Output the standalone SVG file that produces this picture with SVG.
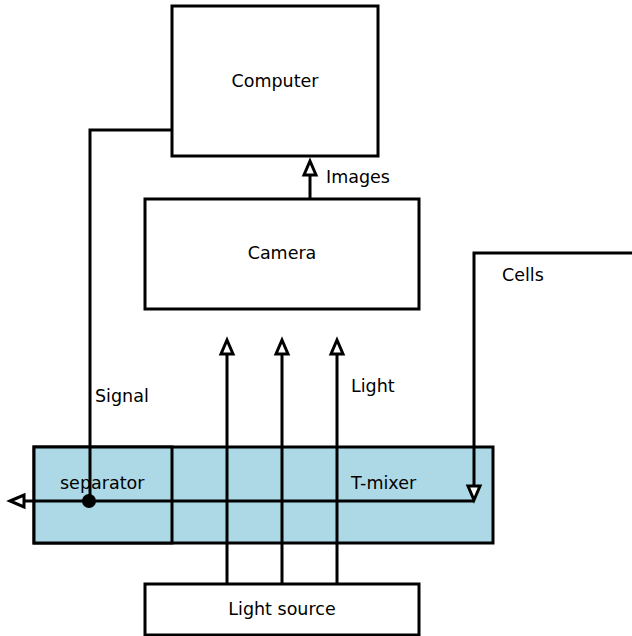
<svg xmlns="http://www.w3.org/2000/svg" width="632" height="636" viewBox="0 0 632 636">
<style>
.box{fill:#fff;stroke:#000;stroke-width:3}
.blue{fill:#add8e6;stroke:#000;stroke-width:3}
.ln{fill:none;stroke:#000;stroke-width:3}
.ah{fill:#fff;stroke:#000;stroke-width:3;stroke-linejoin:miter}
text{font-family:"DejaVu Sans",sans-serif;font-size:17.5px;fill:#000}
.c{text-anchor:middle}
</style>
<rect width="632" height="636" fill="#fff"/>
<g id="tmixer">
<rect class="blue" x="34" y="447" width="459" height="96"/>
<text x="351" y="489">T-mixer</text>
</g>
<g id="separator">
<rect class="blue" x="34" y="447" width="138" height="96"/>
<text x="60" y="489">separator</text>
</g>
<g id="computer">
<rect class="box" x="172" y="6" width="206" height="150"/>
<text class="c" x="275" y="87">Computer</text>
</g>
<g id="camera">
<rect class="box" x="145" y="199" width="274" height="110"/>
<text class="c" x="282" y="259">Camera</text>
</g>
<g id="lightsource">
<rect class="box" x="145" y="584" width="274" height="51"/>
<text class="c" x="282" y="615">Light source</text>
</g>
<g id="connectors">
<path class="ln" d="M310 199V175"/>
<path class="ah" d="M310 161L316 175H304Z"/>
<path class="ln" d="M227 584V355M282 584V355M337 584V355"/>
<path class="ah" d="M227 340L233 354H221Z"/>
<path class="ah" d="M282 340L288 354H276Z"/>
<path class="ah" d="M337 340L343 354H331Z"/>
<path class="ln" d="M172 130H90V501"/>
<path class="ln" d="M632 253H474V486"/>
<path class="ah" d="M474 500L468 486H480Z"/>
<path class="ln" d="M474 501H25"/>
<path class="ah" d="M10 501L24 495V507Z"/>
<circle cx="89" cy="501" r="7" fill="#000"/>
<text x="326" y="183">Images</text>
<text x="502" y="281">Cells</text>
<text x="351" y="392">Light</text>
<text x="95" y="402">Signal</text>
</g>
</svg>
